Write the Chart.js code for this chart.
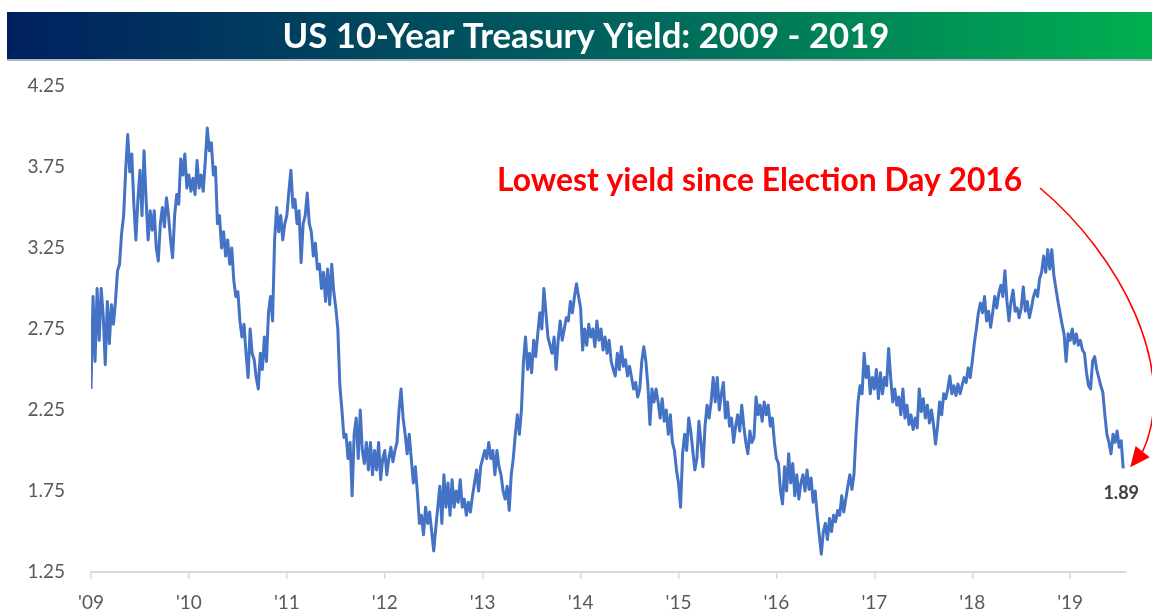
<!DOCTYPE html>
<html><head><meta charset="utf-8">
<script src="https://cdn.jsdelivr.net/npm/chart.js@4.4.1/dist/chart.umd.min.js"></script>
<style>
html,body{margin:0;padding:0;background:#fff;width:1152px;height:614px;overflow:hidden;}
canvas{display:block;}
</style></head><body>
<canvas id="c" width="1152" height="614"></canvas>
<script>
// ---- data (4 samples per month) ----
const titleText = "US 10-Year Treasury Yield: 2009 - 2019";
const annotationText = "Lowest yield since Election Day 2016";
const lastLabel = "1.89";
const tickYears = [2009,2010,2011,2012,2013,2014,2015,2016,2017,2018,2019];
const tickLabels = ["'09","'10","'11","'12","'13","'14","'15","'16","'17","'18","'19"];
const yTicks = [1.25,1.75,2.25,2.75,3.25,3.75,4.25];
const samplesPerYear = 48;

const y2009 = [2.38,2.95,2.55,3.00,2.68,3.00,2.83,2.53,2.92,2.66,2.90,2.78,
               2.92,3.11,3.15,3.34,3.45,3.73,3.95,3.72,3.83,3.52,3.30,3.55,
               3.73,3.45,3.85,3.55,3.30,3.48,3.36,3.48,3.25,3.17,3.40,3.50,
               3.38,3.56,3.45,3.30,3.19,3.45,3.58,3.52,3.80,3.70,3.83,3.62];
const y2010 = [3.70,3.60,3.68,3.58,3.79,3.62,3.70,3.60,3.78,3.99,3.85,3.90,
               3.70,3.75,3.40,3.45,3.25,3.35,3.20,3.30,3.15,3.25,3.05,2.95,
               2.98,2.80,2.70,2.78,2.60,2.45,2.75,2.60,2.56,2.45,2.38,2.60,
               2.50,2.70,2.55,2.85,2.95,2.80,3.30,3.50,3.35,3.45,3.30,3.40];
const y2011 = [3.45,3.60,3.73,3.50,3.55,3.40,3.48,3.16,3.40,3.45,3.59,3.40,
               3.35,3.20,3.28,3.12,3.15,3.00,3.10,2.92,3.12,2.90,3.15,2.98,
               2.88,2.75,2.40,2.25,2.08,2.10,1.95,2.05,1.72,2.10,2.20,1.95,
               2.25,2.00,1.92,2.05,1.88,2.05,1.85,2.00,1.88,2.05,1.82,1.95];
const y2012 = [2.00,1.85,1.95,2.02,1.93,2.00,2.05,2.25,2.38,2.20,2.10,1.98,
               2.10,1.95,1.80,1.90,1.74,1.55,1.60,1.48,1.65,1.55,1.62,1.50,
               1.38,1.52,1.65,1.78,1.55,1.85,1.65,1.80,1.60,1.82,1.65,1.75,
               1.68,1.82,1.65,1.70,1.60,1.68,1.62,1.72,1.80,1.88,1.75,1.90];
const y2013 = [1.95,2.00,1.95,2.05,1.95,2.00,1.85,2.00,1.90,1.85,1.75,1.70,
               1.78,1.63,1.85,1.95,2.10,2.22,2.10,2.25,2.55,2.70,2.50,2.60,
               2.48,2.68,2.58,2.72,2.85,2.75,3.00,2.85,2.70,2.65,2.60,2.70,
               2.50,2.68,2.80,2.68,2.75,2.82,2.80,2.92,2.85,2.95,3.03,2.95];
const y2014 = [2.88,2.62,2.75,2.65,2.78,2.70,2.75,2.64,2.80,2.68,2.75,2.62,
               2.70,2.60,2.68,2.55,2.50,2.46,2.60,2.50,2.64,2.52,2.56,2.46,
               2.52,2.45,2.38,2.42,2.33,2.38,2.55,2.64,2.55,2.40,2.16,2.38,
               2.30,2.38,2.30,2.20,2.32,2.18,2.25,2.10,2.22,2.05,2.00,1.88];
const y2015 = [1.80,1.65,1.98,2.10,2.00,2.20,2.12,2.00,1.88,1.95,2.18,2.05,
               1.90,2.15,2.28,2.20,2.30,2.45,2.30,2.45,2.25,2.35,2.42,2.20,
               2.30,2.15,2.20,2.05,2.15,2.22,2.12,2.28,2.15,2.05,1.98,2.12,
               2.05,2.08,2.33,2.22,2.28,2.18,2.30,2.22,2.28,2.15,2.20,2.05];
const y2016 = [1.95,1.92,1.75,1.67,1.90,1.75,1.98,1.80,1.92,1.72,1.85,1.70,
               1.80,1.85,1.75,1.88,1.76,1.83,1.68,1.75,1.60,1.48,1.36,1.50,
               1.55,1.45,1.58,1.50,1.60,1.56,1.63,1.60,1.72,1.62,1.70,1.78,
               1.85,1.76,1.85,2.10,2.30,2.40,2.35,2.60,2.45,2.52,2.35,2.45];
const y2017 = [2.38,2.50,2.32,2.48,2.35,2.45,2.40,2.63,2.45,2.30,2.38,2.28,
               2.33,2.22,2.38,2.20,2.28,2.16,2.22,2.13,2.20,2.14,2.38,2.24,
               2.32,2.20,2.28,2.17,2.25,2.16,2.04,2.15,2.30,2.22,2.35,2.32,
               2.38,2.46,2.35,2.40,2.34,2.41,2.35,2.40,2.45,2.42,2.51,2.45];
const y2018 = [2.55,2.66,2.75,2.85,2.91,2.85,2.95,2.80,2.86,2.76,2.85,2.95,
               2.88,2.97,3.02,2.95,3.11,2.92,2.80,2.92,2.99,2.86,2.88,2.82,
               2.88,3.01,2.86,2.92,2.82,2.88,2.95,2.99,2.95,3.06,3.10,3.20,
               3.10,3.24,3.12,3.24,3.08,3.00,2.92,2.85,2.78,2.72,2.55,2.72];
const y2019 = [2.68,2.75,2.66,2.72,2.65,2.68,2.62,2.60,2.48,2.40,2.38,2.55,
               2.58,2.50,2.45,2.40,2.36,2.22,2.10,2.05,1.98,2.10,2.05,2.12,
               2.02,2.06,1.89];

const yearlySeries = [y2009,y2010,y2011,y2012,y2013,y2014,y2015,y2016,y2017,y2018,y2019];
const points = [];
yearlySeries.forEach((arr, i) => {
  arr.forEach((v, k) => points.push({x: tickYears[i] + k / samplesPerYear, y: v}));
});

function fitFont(ctx, text, weight, family, targetW, base) {
  ctx.font = weight + ' ' + base + 'px ' + family;
  const w = ctx.measureText(text).width;
  return base * targetW / w;
}

const decor = {
  id: 'decor',
  beforeDraw(chart) {
    const ctx = chart.ctx;
    ctx.save();
    const g = ctx.createLinearGradient(7, 0, 1152, 0);
    g.addColorStop(0, '#00205f');
    g.addColorStop(0.5, '#005e5e');
    g.addColorStop(1, '#00b050');
    ctx.fillStyle = g;
    ctx.fillRect(7, 12, 1145, 47);
    ctx.fillStyle = '#aab6c4';
    ctx.fillRect(7, 59, 1145, 2);
    const fs = fitFont(ctx, titleText, 'bold', 'Lato', 607, 30);
    ctx.font = 'bold ' + fs.toFixed(1) + 'px Lato';
    ctx.fillStyle = '#ffffff';
    ctx.textAlign = 'center';
    ctx.textBaseline = 'middle';
    ctx.fillText(titleText, 586, 37);
    ctx.restore();
  },
  afterDatasetsDraw(chart) {
    const ctx = chart.ctx;
    const meta = chart.getDatasetMeta(0);
    const last = meta.data[meta.data.length - 1];
    ctx.save();
    // annotation text
    const fs = fitFont(ctx, annotationText, 'bold', 'Lato', 525, 25);
    ctx.font = 'bold ' + fs.toFixed(1) + 'px Lato';
    ctx.fillStyle = '#ff0000';
    ctx.textAlign = 'left';
    ctx.textBaseline = 'middle';
    ctx.fillText(annotationText, 497, 181);
    // curved arrow
    const tipX = last.x + 7, tipY = last.y - 1;
    const ux = -0.62, uy = 0.785;          // arrow direction
    const len = 20, hw = 9;
    const bx = tipX - ux * len, by = tipY - uy * len;
    const px = -uy, py = ux;               // perpendicular
    ctx.strokeStyle = '#ff0000';
    ctx.lineWidth = 1.6;
    ctx.beginPath();
    ctx.moveTo(1040, 188);
    ctx.bezierCurveTo(1120, 255, 1180, 370, bx, by);
    ctx.stroke();
    ctx.fillStyle = '#ff0000';
    ctx.beginPath();
    ctx.moveTo(tipX, tipY);
    ctx.lineTo(bx + px * hw, by + py * hw);
    ctx.lineTo(bx - px * hw, by - py * hw);
    ctx.closePath();
    ctx.fill();
    // last value label
    ctx.font = 'bold 18px Lato';
    ctx.fillStyle = '#404040';
    ctx.textAlign = 'center';
    ctx.fillText(lastLabel, last.x - 2, last.y + 25);
    ctx.restore();
  }
};

new Chart(document.getElementById('c'), {
  type: 'line',
  data: { datasets: [{ data: points, borderColor: '#4472c4', borderWidth: 3,
    pointRadius: 0, tension: 0, fill: false, borderJoinStyle: 'round' }] },
  options: {
    responsive: false, animation: false, devicePixelRatio: 1,
    layout: { padding: { top: 86, right: 26, left: 0, bottom: 0 } },
    plugins: { legend: { display: false }, tooltip: { enabled: false }, title: { display: false } },
    scales: {
      x: {
        type: 'linear', min: 2009, max: 2019.57,
        afterBuildTicks: s => { s.ticks = tickYears.map(v => ({ value: v })); },
        afterFit: s => { s.height = 42; },
        ticks: { autoSkip: false, maxRotation: 0, padding: 12, color: '#595959',
          font: { family: 'Lato', size: 19 },
          callback: (v) => tickLabels[tickYears.indexOf(v)] },
        grid: { display: true, drawOnChartArea: false, drawTicks: true, tickLength: 7, color: '#d9d9d9', lineWidth: 1.5 },
        border: { display: true, color: '#d9d9d9', width: 2 }
      },
      y: {
        min: 1.25, max: 4.25,
        afterBuildTicks: s => { s.ticks = yTicks.map(v => ({ value: v })); },
        afterFit: s => { s.width = 91; },
        ticks: { padding: 26, color: '#595959', font: { family: 'Lato', size: 19 },
          callback: v => Number(v).toFixed(2) },
        grid: { display: false, drawTicks: false },
        border: { display: false }
      }
    }
  },
  plugins: [decor]
});
</script>
</body></html>
